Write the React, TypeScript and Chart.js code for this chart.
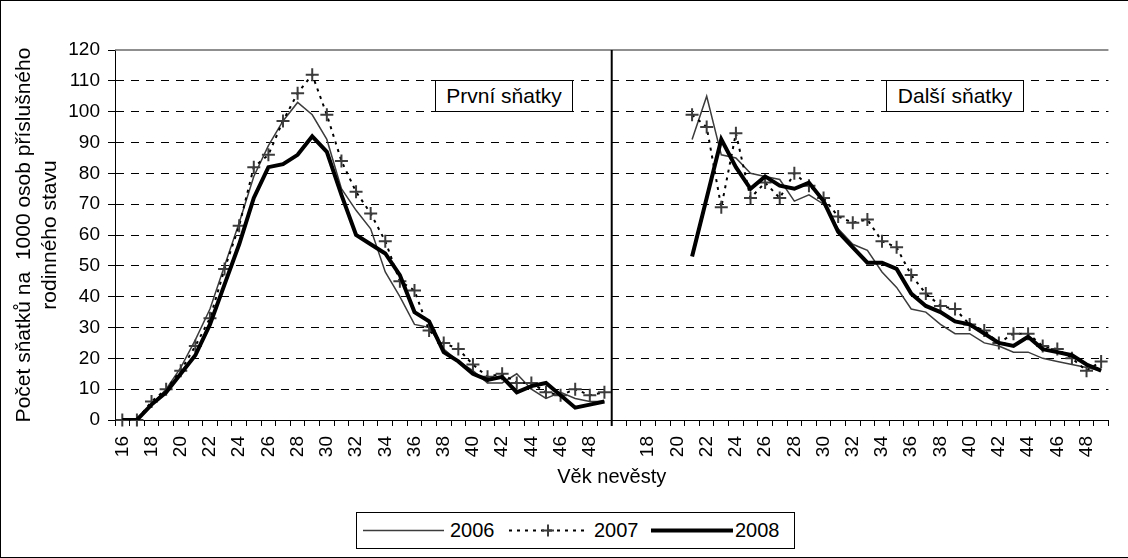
import React, { useEffect, useRef } from 'react';
import { Chart, registerables } from 'chart.js';

Chart.register(...registerables);

// Categories (age of bride) for the two panels
const agesFirst = ['16','17','18','19','20','21','22','23','24','25','26','27','28','29','30','31','32','33','34','35','36','37','38','39','40','41','42','43','44','45','46','47','48','49'];
const agesNext = ['16','17','18','19','20','21','22','23','24','25','26','27','28','29','30','31','32','33','34','35','36','37','38','39','40','41','42','43','44','45','46','47','48','49'];

// První sňatky (first marriages), ages 16..49
const first2006 = [0,0,5,10,17,26,36,50,64,79,89,97,103,99,91,75,68,62,48,40,31,30,23,19,16,12,12,15,10,7,9,7,6,6];
const first2007 = [0,0,6,10,16,24,33,49,63,82,86,97,106,112,99,84,74,67,58,45,42,29,25,23,18,14,15,12,12,9,8,10,8,9];
const first2008 = [0,0,5,9,15,21,31,44,57,72,82,83,86,92,87,73,60,57,54,47,35,32,22,19,15,13,14,9,11,12,8,4,5,6];

// Další sňatky (further marriages), ages 16..49 (no data 16..20)
const next2006 = [null,null,null,null,null,91,105,86,85,80,79,78,71,73,70,62,57,55,48,43,36,35,31,28,28,25,24,22,22,20,19,18,17,16];
const next2007 = [null,null,null,null,null,99,95,69,93,72,77,72,80,76,72,66,64,65,58,56,47,41,37,36,31,29,25,28,28,24,23,20,16,19];
const next2008 = [null,null,null,null,null,53,72,91,82,75,79,76,75,77,71,61,56,51,51,49,41,37,35,32,31,28,25,24,27,23,22,21,18,16];

const seriesNames = ['2006', '2007', '2008'];
const panelNames = ['První sňatky', 'Další sňatky'];
const yMin = 0;
const yMax = 120;
const yStep = 10;

const FONT = '"Liberation Sans", Arial, sans-serif';

export default function App() {
  const ref = useRef<HTMLCanvasElement>(null);

  useEffect(() => {
    const canvas = ref.current;
    if (!canvas) return;
    const labels = [...agesFirst, ...agesNext];
    const nL = agesFirst.length;
    const rightData = (arr: (number | null)[]) => [...agesFirst.map(() => null), ...arr];

    const s2006 = { borderColor: '#3c3c3c', borderWidth: 1.5, pointRadius: 0, pointHoverRadius: 0, order: 3 };
    const s2007 = {
      borderColor: '#000', borderWidth: 2, borderDash: [3, 5], pointStyle: 'cross', pointRadius: 6.5,
      pointHoverRadius: 6.5, pointBorderColor: '#3c3c3c', pointBackgroundColor: '#3c3c3c', pointBorderWidth: 2, order: 2, clip: 8,
    };
    const s2008 = { borderColor: '#000', borderWidth: 4, pointRadius: 0, pointHoverRadius: 0, order: 1, borderJoinStyle: 'miter' };

    const decor = {
      id: 'decor',
      afterDraw(chart: any) {
        const { ctx, chartArea, scales } = chart;
        const x = (scales.x.getPixelForValue(nL - 1) + scales.x.getPixelForValue(nL)) / 2;
        ctx.save();
        const yTop = scales.y.getPixelForValue(yMax);
        ctx.strokeStyle = '#6a6a6a';
        ctx.lineWidth = 1.5;
        ctx.beginPath();
        ctx.moveTo(chartArea.left, yTop);
        ctx.lineTo(chartArea.right, yTop);
        ctx.stroke();
        ctx.strokeStyle = '#000';
        ctx.lineWidth = 2;
        ctx.beginPath();
        ctx.moveTo(x, chartArea.top);
        ctx.lineTo(x, chartArea.bottom + 6);
        ctx.stroke();
        ctx.restore();
      },
    };

    const chart = new Chart(canvas, {
      type: 'line',
      data: {
        labels,
        datasets: [
          { label: seriesNames[0], data: first2006, ...s2006 },
          { label: seriesNames[1], data: first2007, ...s2007 },
          { label: seriesNames[2], data: first2008, ...s2008 },
          { label: seriesNames[0], data: rightData(next2006), ...s2006 },
          { label: seriesNames[1], data: rightData(next2007), ...s2007 },
          { label: seriesNames[2], data: rightData(next2008), ...s2008 },
        ] as any,
      },
      options: {
        animation: false,
        responsive: false,
        maintainAspectRatio: false,
        events: [],
        layout: { padding: { top: 50, left: 0, right: 0, bottom: 0 } },
        plugins: { legend: { display: false }, tooltip: { enabled: false } },
        scales: {
          x: {
            type: 'category',
            offset: true,
            afterFit: (s: any) => { s.height = 138; },
            grid: { offset: true, drawOnChartArea: false, drawTicks: true, tickLength: 6, color: '#000', lineWidth: 1 },
            border: { display: true, color: '#000', width: 1 },
            ticks: {
              autoSkip: false,
              maxRotation: 90,
              minRotation: 90,
              padding: 10,
              color: '#000',
              font: { family: FONT, size: 19 },
              callback: (_v: any, i: number) => (i % 2 === 0 && i !== nL ? labels[i] : ''),
            },
            title: {
              display: true,
              text: 'Věk nevěsty',
              color: '#000',
              font: { family: FONT, size: 20 },
              padding: { top: 0, bottom: 69 },
            },
          },
          y: {
            min: yMin,
            max: yMax,
            afterFit: (s: any) => { s.width = 115; },
            ticks: { stepSize: yStep, padding: 8, color: '#000', font: { family: FONT, size: 19 } },
            grid: {
              color: (c: any) => (c.tick && c.tick.value === yMax ? 'rgba(0,0,0,0)' : '#000'),
              lineWidth: 1,
              tickLength: 7,
              tickColor: '#000',
              tickBorderDash: [],
            },
            border: { display: true, color: '#000', width: 1, dash: [8, 7] },
            title: {
              display: true,
              text: ['Počet sňatků na  1000 osob příslušného', 'rodinného stavu'],
              color: '#000',
              font: { family: FONT, size: 21, lineHeight: 1.2 },
              padding: { top: 12, bottom: 0 },
            },
          },
        },
      } as any,
      plugins: [decor],
    });
    return () => chart.destroy();
  }, []);

  const boxStyle: React.CSSProperties = {
    position: 'absolute', top: 80, width: 138, height: 32, boxSizing: 'border-box',
    border: '1.5px solid #000', background: '#fff', display: 'flex', alignItems: 'center',
    justifyContent: 'center', fontFamily: FONT, fontSize: 21, color: '#000', whiteSpace: 'nowrap',
  };
  const legendText: React.CSSProperties = {
    position: 'absolute', top: 0, height: 35, lineHeight: '35px', fontFamily: FONT, fontSize: 20, color: '#000',
  };

  return (
    <div style={{ position: 'fixed', left: 0, top: 0, width: 1128, height: 558, overflow: 'hidden', background: '#fff' }}>
      <canvas ref={ref} width={1134} height={558} style={{ position: 'absolute', left: 0, top: 0, width: 1134, height: 558 }} />
      <div style={{ ...boxStyle, left: 435 }}>{panelNames[0]}</div>
      <div style={{ ...boxStyle, left: 886 }}>{panelNames[1]}</div>
      <div style={{ position: 'absolute', left: 356, top: 512, width: 439, height: 37, boxSizing: 'border-box', border: '1px solid #000', background: '#fff' }}>
        <svg style={{ position: 'absolute', left: 0, top: 0 }} width={437} height={35}>
          <line x1={6} y1={17.5} x2={87} y2={17.5} stroke="#3c3c3c" strokeWidth={1.5} />
          <line x1={152} y1={17.5} x2={232} y2={17.5} stroke="#000" strokeWidth={2} strokeDasharray="3 5" />
          <line x1={185} y1={17.5} x2={197} y2={17.5} stroke="#3c3c3c" strokeWidth={2} />
          <line x1={191} y1={11.5} x2={191} y2={23.5} stroke="#3c3c3c" strokeWidth={2} />
          <line x1={294} y1={17.5} x2={376} y2={17.5} stroke="#000" strokeWidth={4} />
        </svg>
        <span style={{ ...legendText, left: 93 }}>{seriesNames[0]}</span>
        <span style={{ ...legendText, left: 237 }}>{seriesNames[1]}</span>
        <span style={{ ...legendText, left: 378 }}>{seriesNames[2]}</span>
      </div>
      <div style={{ position: 'absolute', left: 0, top: 0, width: 1128, height: 558, boxSizing: 'border-box', borderLeft: '1px solid #000', borderTop: '1px solid #000', borderBottom: '1px solid #000', pointerEvents: 'none' }} />
    </div>
  );
}
